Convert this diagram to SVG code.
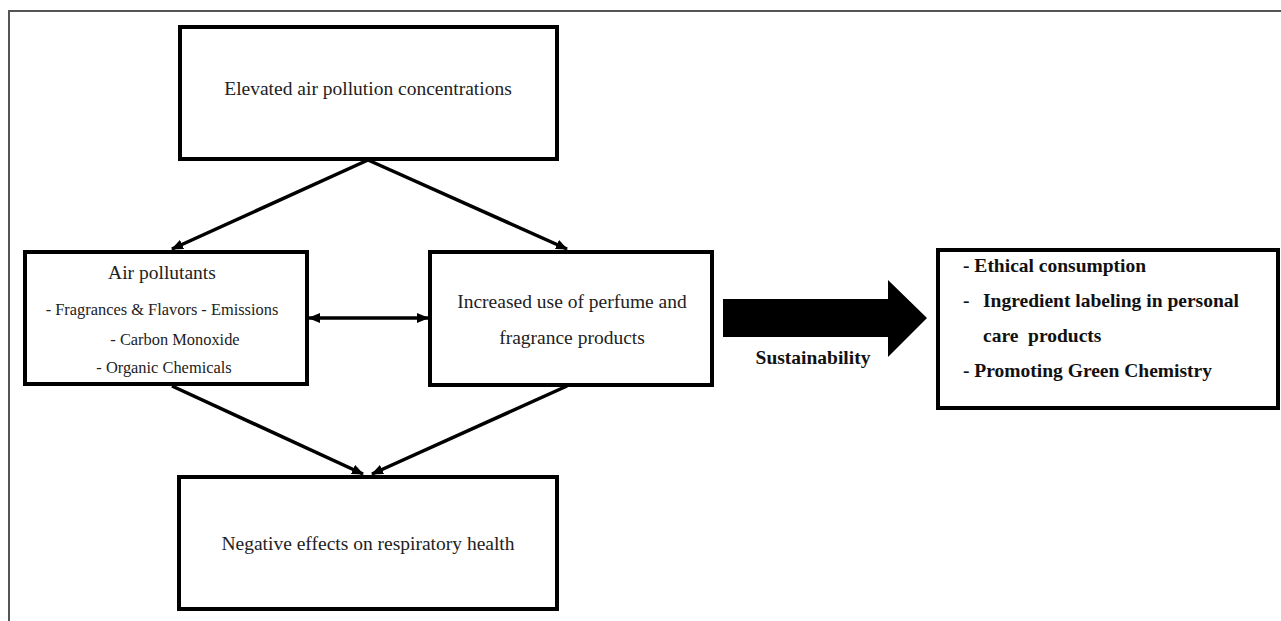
<svg xmlns="http://www.w3.org/2000/svg" width="1281" height="621" viewBox="0 0 1281 621">
<defs>
<style>
.box{fill:#fff;stroke:#000;stroke-width:4}
.t{font-family:"Liberation Serif","Times New Roman",serif;fill:#222;text-anchor:middle}
.n{font-size:19.5px}
.s{font-size:16.4px}
.b{font-size:19.5px;font-weight:bold;fill:#111}
.l{text-anchor:start}
.c{stroke:#000;stroke-width:3.5;fill:none}
</style>
<marker id="ah" viewBox="0 0 12 10" refX="11" refY="5" markerWidth="12" markerHeight="10" markerUnits="userSpaceOnUse" orient="auto-start-reverse">
<path d="M0,0 L12,5 L0,10 z" fill="#000"/>
</marker>
</defs>
<rect width="1281" height="621" fill="#fff"/>
<g id="frame">
<path d="M9,621 V11 H1281" fill="none" stroke="#555" stroke-width="2"/>
</g>
<g id="connectors">
<line class="c" x1="368" y1="160" x2="172" y2="249" marker-end="url(#ah)"/>
<line class="c" x1="368" y1="160" x2="567" y2="249" marker-end="url(#ah)"/>
<line class="c" x1="309" y1="318" x2="428" y2="318" marker-start="url(#ah)" marker-end="url(#ah)"/>
<line class="c" x1="172" y1="386" x2="363" y2="474" marker-end="url(#ah)"/>
<line class="c" x1="567" y1="386" x2="372" y2="474" marker-end="url(#ah)"/>
<polygon points="723,299 888,299 888,280 927,318 888,357 888,337 723,337" fill="#000"/>
<text class="t b" x="813" y="364">Sustainability</text>
</g>
<g id="top">
<rect class="box" x="180" y="27" width="377" height="132"/>
<text class="t n" x="368" y="95">Elevated air pollution concentrations</text>
</g>
<g id="air">
<rect class="box" x="25" y="252" width="282" height="132"/>
<text class="t n" x="162" y="279">Air pollutants</text>
<text class="t s" x="162" y="315">- Fragrances &amp; Flavors - Emissions</text>
<text class="t s" x="175" y="345">- Carbon Monoxide</text>
<text class="t s" x="164" y="373">- Organic Chemicals</text>
</g>
<g id="perfume">
<rect class="box" x="430" y="252" width="282" height="133"/>
<text class="t n" x="572" y="308">Increased use of perfume and</text>
<text class="t n" x="572" y="344">fragrance products</text>
</g>
<g id="bottom">
<rect class="box" x="179" y="477" width="378" height="132"/>
<text class="t n" x="368" y="550">Negative effects on respiratory health</text>
</g>
<g id="sustain">
<rect class="box" x="938" y="250" width="340" height="158"/>
<text class="t b l" x="963" y="272">- Ethical consumption</text>
<text class="t b l" x="963" y="307">-</text>
<text class="t b l" x="983" y="307">Ingredient labeling in personal</text>
<text class="t b l" x="983" y="342" xml:space="preserve">care  products</text>
<text class="t b l" x="963" y="377">- Promoting Green Chemistry</text>
</g>
</svg>
